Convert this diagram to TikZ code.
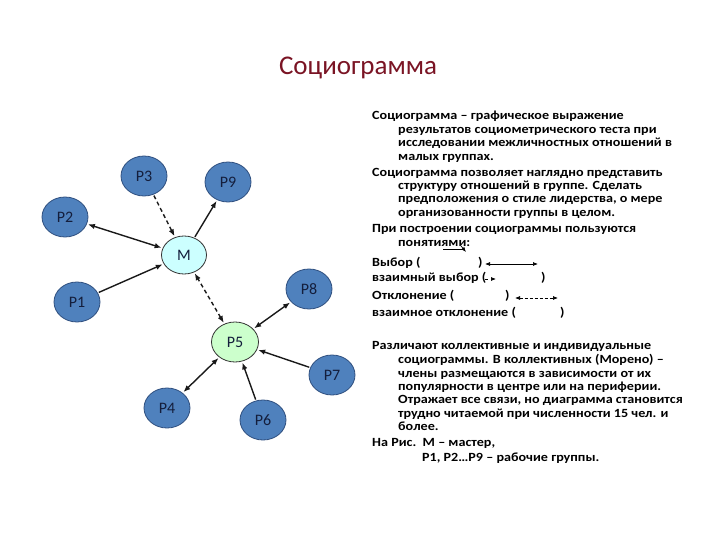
\documentclass[tikz,border=0pt]{standalone}
\usepackage{fontspec}
\setmainfont{Carlito}
\newfontfamily\txtfont[FakeStretch=1.13]{Carlito}
\usetikzlibrary{shapes.geometric,arrows.meta}
\definecolor{pblue}{HTML}{4F81BD}
\definecolor{pborder}{HTML}{2F4F7F}
\definecolor{ptext}{HTML}{141E3C}
\definecolor{mfill}{HTML}{CCFFFF}
\definecolor{gfill}{HTML}{CCFFCC}
\definecolor{titlered}{HTML}{7A1424}
\tikzset{
  pnode/.style={ellipse,draw=pborder,fill=pblue,line width=0.8pt,minimum width=46pt,minimum height=40pt,inner sep=0pt,text=ptext,font=\fontsize{16}{16}\selectfont},
  mnode/.style={pnode,fill=mfill,draw=black!80,minimum width=45pt,minimum height=38pt},
  gnode/.style={pnode,fill=gfill,draw=black!80,minimum width=47pt,minimum height=40pt},
  link/.style={line width=1.4pt,draw=black!90,shorten >=1pt,shorten <=1pt},
  tipone/.style={-{Latex[length=7pt,width=5.5pt]}},
  tipboth/.style={{Latex[length=7pt,width=5.5pt]}-{Latex[length=7pt,width=5.5pt]}},
  dashy/.style={dash pattern=on 4pt off 3pt},
  txt/.style={anchor=base west,inner sep=0pt,font=\txtfont\fontsize{12.5}{13}\selectfont\bfseries},
  legarrow/.style={line width=0.7pt},
  ltip/.style={-{Latex[length=5pt,width=4pt]}},
  lbitip/.style={{Latex[length=5pt,width=4pt]}-{Latex[length=5pt,width=4pt]}}
}
\begin{document}
\begin{tikzpicture}[x=1pt,y=-1pt]
\useasboundingbox (0,0) rectangle (720,540);
\node[font=\fontsize{27}{27}\selectfont,text=titlered] (title) at (358,68) {Социограмма};

\node[pnode] (P3) at (144,176) {P3};
\node[pnode] (P9) at (228,182) {P9};
\node[pnode] (P2) at (65,217) {P2};
\node[mnode] (M) at (184,255) {M};
\node[pnode] (P1) at (77,302) {P1};
\node[pnode] (P8) at (309,289) {P8};
\node[gnode] (P5) at (235,342) {P5};
\node[pnode] (P7) at (332,375) {P7};
\node[pnode] (P4) at (167,408) {P4};
\node[pnode] (P6) at (263,420) {P6};

\draw[link,tipboth] (P2) -- (M);
\draw[link,tipone] (P1) -- (M);
\draw[link,tipone,dashy] (P3) -- (M);
\draw[link,tipone] (M) -- (P9);
\draw[link,tipboth,dashy] (P5) -- (M);
\draw[link,tipboth] (P5) -- (P8);
\draw[link,tipone] (P7) -- (P5);
\draw[link,tipone] (P6) -- (P5);
\draw[link,tipboth] (P4) -- (P5);

% text block 1
\node[txt] (t1) at (372,120) {Социограмма – графическое выражение};
\node[txt] (t2) at (398,134) {результатов социометрического теста при};
\node[txt] (t3) at (398,147) {исследовании межличностных отношений в};
\node[txt] (t4) at (398,161) {малых группах.};
\node[txt] (t5) at (372,177) {Социограмма позволяет наглядно представить};
\node[txt] (t6) at (398,190) {структуру отношений в группе. Сделать};
\node[txt] (t7) at (398,203) {предположения о стиле лидерства, о мере};
\node[txt] (t8) at (398,217) {организованности группы в целом.};
\node[txt] (t9) at (372,233) {При построении социограммы пользуются};
\node[txt] (t10) at (398,247) {понятиями:};
\node[txt] (t11) at (372,266) {Выбор (};
\node[txt] (t11b) at (478,266) {)};
\node[txt] (t12) at (372,281) {взаимный выбор (};
\node[txt] (t12b) at (541,281) {)};
\node[txt] (t13) at (372,299) {Отклонение (};
\node[txt] (t13b) at (505,299) {)};
\node[txt] (t14) at (372,316) {взаимное отклонение (};
\node[txt] (t14b) at (560,316) {)};

\coordinate (u1) at (443,249);
\coordinate (u2) at (465,249);
\draw[legarrow] (u1) -- (u2);
\coordinate (u3) at (461,246);
\coordinate (u4) at (466,252);
\draw[legarrow,ltip] (u3) -- (u4);

\coordinate (a1) at (485,264);
\coordinate (a2) at (538,264);
\draw[legarrow,lbitip] (a1) -- (a2);
\coordinate (b1) at (485,279);
\coordinate (b2) at (496,279);
\draw[legarrow,ltip,dash pattern=on 3pt off 4pt] (b1) -- (b2);
\coordinate (c1) at (515,298);
\coordinate (c2) at (558,298);
\draw[legarrow,lbitip,dash pattern=on 3pt off 2pt] (c1) -- (c2);

% text block 2
\node[txt] (s1) at (372,349) {Различают коллективные и индивидуальные};
\node[txt] (s2) at (398,363) {социограммы. В коллективных (Морено) –};
\node[txt] (s3) at (398,377) {члены размещаются в зависимости от их};
\node[txt] (s4) at (398,390) {популярности в центре или на периферии.};
\node[txt] (s5) at (398,403) {Отражает все связи, но диаграмма становится};
\node[txt] (s6) at (398,417) {трудно читаемой при численности 15 чел. и};
\node[txt] (s7) at (398,430) {более.};
\node[txt] (s8) at (372,446) {На Рис.\ \ М – мастер,};
\node[txt] (s9) at (422,461) {Р1, Р2…Р9 – рабочие группы.};
\end{tikzpicture}
\end{document}
